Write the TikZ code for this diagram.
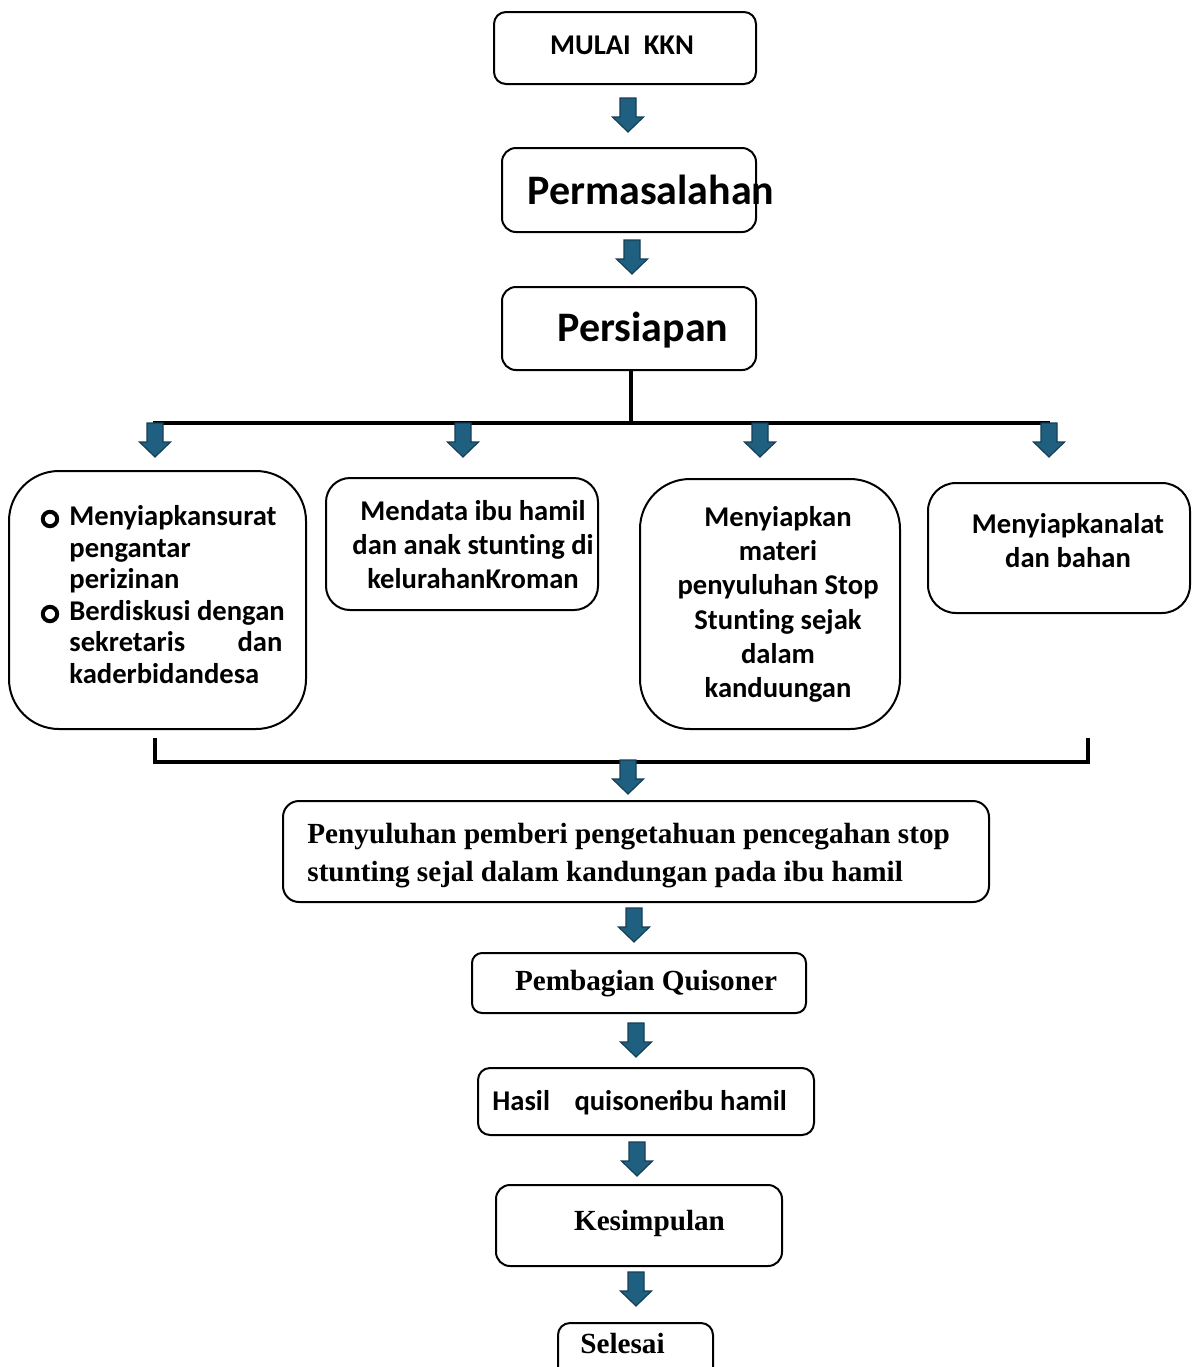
\documentclass[tikz,border=0pt]{standalone}
\usepackage{fontspec}
\setmainfont{Carlito}[Ligatures=NoCommon]
\newfontfamily\serifb{Liberation Serif}
\definecolor{biru}{RGB}{31,95,128}
\definecolor{birutua}{RGB}{22,62,86}
\tikzset{
	kotak/.style={draw=black, line width=1pt, rounded corners=#1, inner sep=0pt},
	kotak/.default=6pt,
	teks/.style={font=\bfseries\fontsize{14.3}{17}\selectfont, inner sep=0pt},
	teksserif/.style={font=\serifb\bfseries\fontsize{14.6}{19}\selectfont, inner sep=0pt},
	garis/.style={line width=1.8pt},
	pics/panah/.style={code={
		\filldraw[fill=biru, draw=birutua, line width=0.6pt] (-8,0) -- (8,0) -- (8,19) -- (15.5,19) -- (0,34) -- (-15.5,19) -- (-8,19) -- cycle;
	}}
}
\begin{document}
\begin{tikzpicture}[x=0.5pt, y=-0.5pt, line join=miter]
		\useasboundingbox (0,0) rectangle (1192,1367);
		\clip (0,0) rectangle (1192,1367);
		% kotak atas
		\node[kotak=6pt, minimum width=131pt, minimum height=36pt] (kMulai) at (625,48) {};
		\node[kotak=7pt, minimum width=127pt, minimum height=42pt] (kMasalah) at (629,190) {};
		\node[kotak=7pt, minimum width=127pt, minimum height=41.5pt] (kPersiapan) at (629,328.5) {};
		\node[teks, anchor=base] (tMulai) at (622,54) {MULAI~ KKN};
		\node[teks, font=\bfseries\fontsize{21}{25}\selectfont, anchor=base] (tMasalah) at (651,204) {Permasalahan};
		\node[teks, font=\bfseries\fontsize{21}{25}\selectfont, anchor=base] (tPersiapan) at (643,341) {Persiapan};
		% cabang
		\coordinate (cabangKiri) at (153,423);
		\coordinate (cabangKanan) at (1050,423);
		\draw[garis] ([xshift=1pt]kPersiapan.south) -- ([xshift=1pt]kPersiapan.south |- cabangKiri);
		\draw[garis] (cabangKiri) -- (cabangKanan);
		% empat kegiatan persiapan
		\node[kotak=25pt, minimum width=148.5pt, minimum height=129pt] (kSurat) at (157.5,600) {};
		\node[kotak=12pt, minimum width=136pt, minimum height=66pt] (kData) at (462,544) {};
		\node[kotak=25pt, minimum width=130pt, minimum height=125pt] (kMateri) at (770,604) {};
		\node[kotak=14pt, minimum width=131pt, minimum height=65pt] (kAlat) at (1059,548) {};
		\node[teks, font=\bfseries\fontsize{14.3}{15.8}\selectfont, align=left, anchor=north west] (tSurat) at (69,505) {Menyiapkansurat\\pengantar\\perizinan\\Berdiskusi dengan\\\hbox to 106.5pt{sekretaris\hfill dan}\\kaderbidandesa};
		\foreach \y in {519, 614} {
			\draw[line width=2pt] (50,\y) circle (3.6pt);
		}
		\node[teks, align=center, anchor=north] (tData) at (473,500) {Mendata ibu hamil\\dan anak stunting di\\kelurahanKroman};
		\node[teks, font=\bfseries\fontsize{14.3}{17.1}\selectfont, align=center, anchor=north] (tMateri) at (778,506) {Menyiapkan\\materi\\penyuluhan Stop\\Stunting sejak\\dalam\\kanduungan};
		\node[teks, align=center, anchor=north] (tAlat) at (1068,513) {Menyiapkanalat\\dan bahan};
		% kurung penggabung
		\coordinate (kurungKiri) at (155,738);
		\coordinate (kurungKanan) at (1088,738);
		\draw[garis] (kurungKiri) -- ++(0,24) -| (kurungKanan);
		% kotak bawah
		\node[kotak=8pt, minimum width=353pt, minimum height=50.5pt] (kPenyuluhan) at (636,851.5) {};
		\node[kotak=5pt, minimum width=167pt, minimum height=30pt] (kPembagian) at (639,983) {};
		\node[kotak=6pt, minimum width=168pt, minimum height=33.5pt] (kHasil) at (646,1101.5) {};
		\node[kotak=7pt, minimum width=143pt, minimum height=40.5pt] (kKesimpulan) at (639,1225.5) {};
		\node[kotak=6pt, minimum width=77.5pt, minimum height=28.5pt] (kSelesai) at (635.5,1351.5) {};
		\node[teksserif, align=left, anchor=north west] (tPenyuluhan) at (307,823) {Penyuluhan pemberi pengetahuan pencegahan stop\\stunting sejal dalam kandungan pada ibu hamil};
		\node[teksserif, anchor=base] (tPembagian) at (646,990) {Pembagian Quisoner};
		\node[teks, anchor=base west] (tHasil) at (492,1110) {Hasil\hspace{9pt} quisoner\hspace{-1.5pt}ibu hamil};
		\node[teksserif, anchor=base] (tKesimpulan) at (649.5,1230) {Kesimpulan};
		\node[teksserif, anchor=base] (tSelesai) at (622.5,1353) {Selesai};
		% panah biru
		\foreach \x/\y in {628/98, 632/240, 155/423, 463/423, 760/423, 1049/423, 628/760, 634/908, 636/1023, 637/1142, 636/1272} {
			\pic at (\x,\y) {panah};
		}
	\end{tikzpicture}
\end{document}
